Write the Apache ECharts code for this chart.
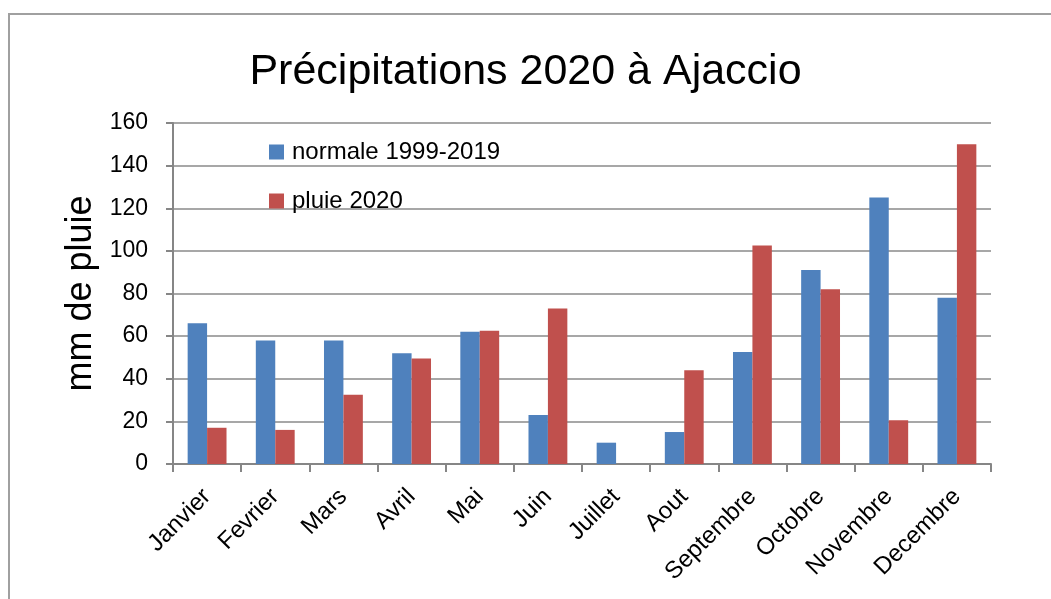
<!DOCTYPE html>
<html>
<head>
<meta charset="utf-8">
<title>Précipitations 2020 à Ajaccio</title>
<script src="https://cdn.jsdelivr.net/npm/echarts@6/dist/echarts.min.js"></script>
<style>
  html, body { margin: 0; padding: 0; background: #ffffff; }
  #chart { width: 1051px; height: 599px; }
</style>
</head>
<body>
<div id="chart"></div>
<script>
// Monthly rainfall at Ajaccio (mm)
const months = ['Janvier', 'Fevrier', 'Mars', 'Avril', 'Mai', 'Juin', 'Juillet',
  'Aout', 'Septembre', 'Octobre', 'Novembre', 'Decembre'];
const normale = [66, 58, 58, 52, 62, 23, 10, 15, 52.5, 91, 125, 78];
const pluie2020 = [17, 16, 32.5, 49.5, 62.5, 73, 0, 44, 102.5, 82, 20.5, 150];
const yTicks = { min: 0, max: 160, interval: 20 };

const FONT = '"Liberation Sans", Arial, sans-serif';
const axisGray = '#868686';

const chart = echarts.init(document.getElementById('chart'), null, { renderer: 'canvas' });

chart.setOption({
  backgroundColor: '#ffffff',
  animation: false,
  textStyle: { fontFamily: FONT, color: '#000' },
  title: {
    text: 'Précipitations 2020 à Ajaccio',
    left: 'center',
    top: 46,
    textStyle: { fontFamily: FONT, fontSize: 43, fontWeight: 'normal', color: '#000' }
  },
  graphic: [{
    type: 'rect',
    silent: true,
    z: -1,
    shape: { x: 9, y: 14, width: 1200, height: 800 },
    style: { fill: 'none', stroke: '#a0a0a0', lineWidth: 2 }
  }],
  legend: {
    orient: 'vertical',
    left: 269,
    top: 140,
    padding: 0,
    itemWidth: 15,
    itemHeight: 15,
    itemGap: 25,
    icon: 'rect',
    textStyle: { fontFamily: FONT, fontSize: 24, color: '#000', padding: [0, 0, 0, 3] },
    data: ['normale 1999-2019', 'pluie 2020']
  },
  grid: { left: 173, right: 60, top: 123, bottom: 135, containLabel: false },
  xAxis: {
    type: 'category',
    data: months,
    boundaryGap: true,
    axisLine: { show: true, lineStyle: { color: axisGray, width: 2 } },
    axisTick: { show: true, alignWithLabel: false, length: 8, lineStyle: { color: axisGray, width: 2 } },
    axisLabel: { rotate: 45, margin: 29, fontSize: 24, color: '#000', fontFamily: FONT, interval: 0 },
    splitLine: { show: false }
  },
  yAxis: {
    type: 'value',
    min: yTicks.min,
    max: yTicks.max,
    interval: yTicks.interval,
    name: 'mm de pluie',
    nameLocation: 'middle',
    nameRotate: 90,
    nameGap: 72,
    nameTextStyle: { fontFamily: FONT, fontSize: 36, color: '#000' },
    axisLine: { show: true, lineStyle: { color: axisGray, width: 2 } },
    axisTick: { show: true, length: 7, lineStyle: { color: axisGray, width: 2 } },
    axisLabel: { margin: 25, fontSize: 23, color: '#000', fontFamily: FONT },
    splitLine: { show: true, lineStyle: { color: '#8a8a8a', width: 1.5 } }
  },
  series: [
    {
      name: 'normale 1999-2019',
      type: 'bar',
      data: normale,
      barGap: '0%',
      barCategoryGap: '43%',
      itemStyle: { color: '#4F81BD' }
    },
    {
      name: 'pluie 2020',
      type: 'bar',
      data: pluie2020,
      barGap: '0%',
      barCategoryGap: '43%',
      itemStyle: { color: '#C0504D' }
    }
  ]
});
</script>
</body>
</html>
